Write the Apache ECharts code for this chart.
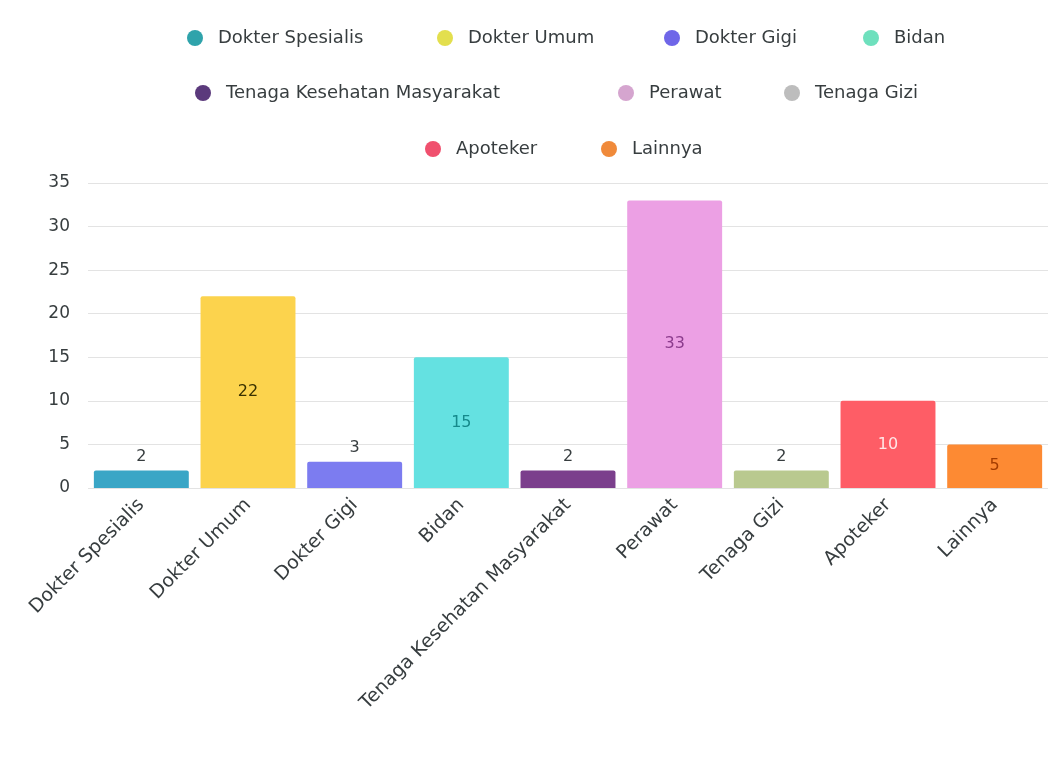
<!DOCTYPE html>
<html>
<head>
<meta charset="utf-8">
<script src="https://cdn.jsdelivr.net/npm/echarts@6/dist/echarts.min.js"></script>
<style>
html,body{margin:0;padding:0;background:#fff;}
#chart{width:1049px;height:759px;}
</style>
</head>
<body>
<div id="chart"></div>
<script>
// ---- data ----
var categories = ['Dokter Spesialis','Dokter Umum','Dokter Gigi','Bidan','Tenaga Kesehatan Masyarakat','Perawat','Tenaga Gizi','Apoteker','Lainnya'];
var values = [2, 22, 3, 15, 2, 33, 2, 10, 5];
var yTicks = [0, 5, 10, 15, 20, 25, 30, 35];

// ---- styling ----
var colors = ['#3aa6c6','#fcd34d','#7c7cf0','#64e1e1','#7b3f8c','#eca0e4','#b9c98f','#fe5d66','#fd8a33'];
var legendColors = ['#2fa3ab','#e3df4e','#6f66e8','#6ee0bd','#5b3a7c','#d5a5cf','#bdbdbd','#f0506e','#f08a3a'];
var insideLabelColors = ['#333','#3a3200','#333','#168a8c','#333','#8b3b8c','#333','#ffe6e6','#a33c00'];
var legendRows = [
  {left:182, top:24, items:[0,1,2,3], widths:[177,154,126,64]},
  {left:190, top:79, items:[4,5,6], widths:[350,93,138]},
  {left:420, top:135, items:[7,8], widths:[103,84]}
];
var FONT = 'DejaVu Sans';

var series = categories.map(function(name, i){
  var small = values[i] < 5;
  return {
    name: name,
    type: 'bar',
    stack: 'all',
    barWidth: '89%',
    itemStyle: {color: colors[i], borderRadius: [2,2,0,0]},
    label: {
      show: true,
      position: small ? 'top' : 'inside',
      distance: 6,
      fontFamily: FONT,
      fontSize: 16,
      color: small ? '#373d3f' : insideLabelColors[i],
      formatter: function(p){ return p.value; }
    },
    data: categories.map(function(c, j){ return j === i ? values[i] : '-'; })
  };
});

var legends = legendRows.map(function(r){
  return {
    left: r.left, top: r.top,
    orient: 'horizontal',
    itemGap: 42,
    itemWidth: 16, itemHeight: 16,
    icon: 'circle',
    selectedMode: false,
    textStyle: {fontFamily: FONT, fontSize: 18, color: '#373d3f', lineHeight: 16, padding:[0,0,0,10]},
    data: r.items.map(function(idx, k){
      return {name: categories[idx], itemStyle:{color: legendColors[idx]}, textStyle:{width: r.widths[k]}};
    })
  };
});

var chart = echarts.init(document.getElementById('chart'));
chart.setOption({
  animation: false,
  backgroundColor: '#fff',
  legend: legends,
  grid: {left: 88, right: 1, top: 183, bottom: 271, containLabel: false},
  xAxis: {
    type: 'category',
    data: categories,
    axisLine: {show: false},
    axisTick: {show: false},
    axisLabel: {rotate: 45, interval: 0, fontFamily: FONT, fontSize: 19, color: '#373d3f', margin: 14}
  },
  yAxis: {
    type: 'value',
    min: yTicks[0], max: yTicks[yTicks.length-1], interval: 5,
    axisLine: {show: false},
    axisTick: {show: false},
    axisLabel: {fontFamily: FONT, fontSize: 17, color: '#373d3f', margin: 18},
    splitLine: {lineStyle: {color: '#e3e3e3', width: 1}}
  },
  series: series
});
</script>
</body>
</html>
